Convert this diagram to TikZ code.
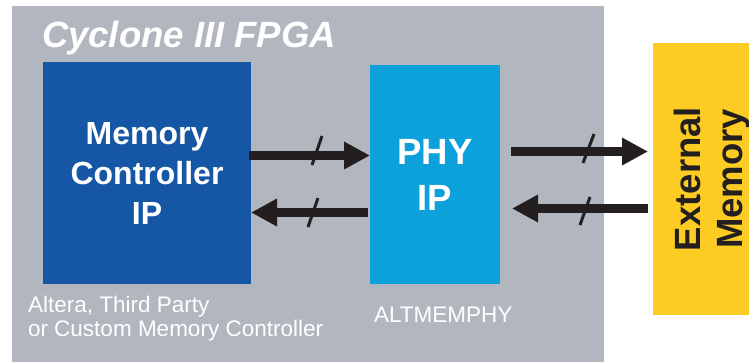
\documentclass[tikz,border=0pt]{standalone}
\usepackage{fontspec}
\setmainfont{Liberation Sans}
\usetikzlibrary{arrows.meta}
\definecolor{fpgagray}{HTML}{B2B7BF}
\definecolor{mcblue}{HTML}{1657A5}
\definecolor{phyblue}{HTML}{0DA1DB}
\definecolor{memyellow}{HTML}{FCCB24}
\definecolor{arrowdark}{HTML}{231F20}
\tikzset{
  block/.style={rectangle, inner sep=0pt, outer sep=0pt, text=white, font=\bfseries, align=center},
  bigarrow/.style={draw=arrowdark, line width=9pt, -{Triangle[length=26pt,width=26pt]}},
  slashmark/.style={draw=arrowdark, line width=3pt},
  lbl/.style={text=white, inner sep=0pt, outer sep=0pt, align=left}
}
\begin{document}
\begin{tikzpicture}[x=1pt,y=-1pt]
\useasboundingbox (0,0) rectangle (749,362);
% FPGA background
\fill[fpgagray] (12,6) rectangle (604,362);
\node[lbl, anchor=base west, font=\fontsize{36.5}{40}\selectfont\bfseries\itshape] (title) at (42,47) {Cyclone III FPGA};
% blocks
\node[block, fill=mcblue, minimum width=208pt, minimum height=222pt, font=\fontsize{32}{40}\selectfont\bfseries] (mc) at (147,173) {Memory\\Controller\\IP};
\node[block, fill=phyblue, minimum width=130pt, minimum height=219pt, font=\fontsize{36.5}{46}\selectfont\bfseries] (phy) at (435,174.5) {PHY\\IP};
\node[rectangle, fill=memyellow, minimum width=118pt, minimum height=272pt, inner sep=0pt, outer sep=0pt] (ext) at (712,179) {};
\node[rotate=90, text=arrowdark, align=center, inner sep=0pt, font=\fontsize{36.5}{42}\selectfont\bfseries] (exttext) at (ext.center) {External\\Memory};
% labels
\node[lbl, anchor=base west, font=\fontsize{22.5}{24}\selectfont] (mclbl) at (28,336) {Altera, Third Party\\or Custom Memory Controller};
\node[lbl, anchor=base west, font=\fontsize{22.5}{24}\selectfont] (phylbl) at (374,322) {ALTMEMPHY};
% rows
\coordinate (r1) at (0,155.5);
\coordinate (r2) at (0,212.5);
\coordinate (r3) at (0,151.5);
\coordinate (r4) at (0,208.5);
% arrows
\draw[bigarrow, shorten <=-2pt] (mc.east |- r1) -- (phy.west |- r1);
\draw[bigarrow, shorten <=2pt] (phy.west |- r2) -- (mc.east |- r2);
\draw[bigarrow, shorten <=11pt, shorten >=5pt] (phy.east |- r3) -- (ext.west |- r3);
\draw[bigarrow, shorten <=5pt, shorten >=12pt] (ext.west |- r4) -- (phy.east |- r4);
% bus slashes
\draw[slashmark] (322,136) -- (312,165);
\draw[slashmark] (318,198) -- (308,227);
\draw[slashmark] (594,134) -- (583,163);
\draw[slashmark] (590,197) -- (580,225);
\end{tikzpicture}
\end{document}
